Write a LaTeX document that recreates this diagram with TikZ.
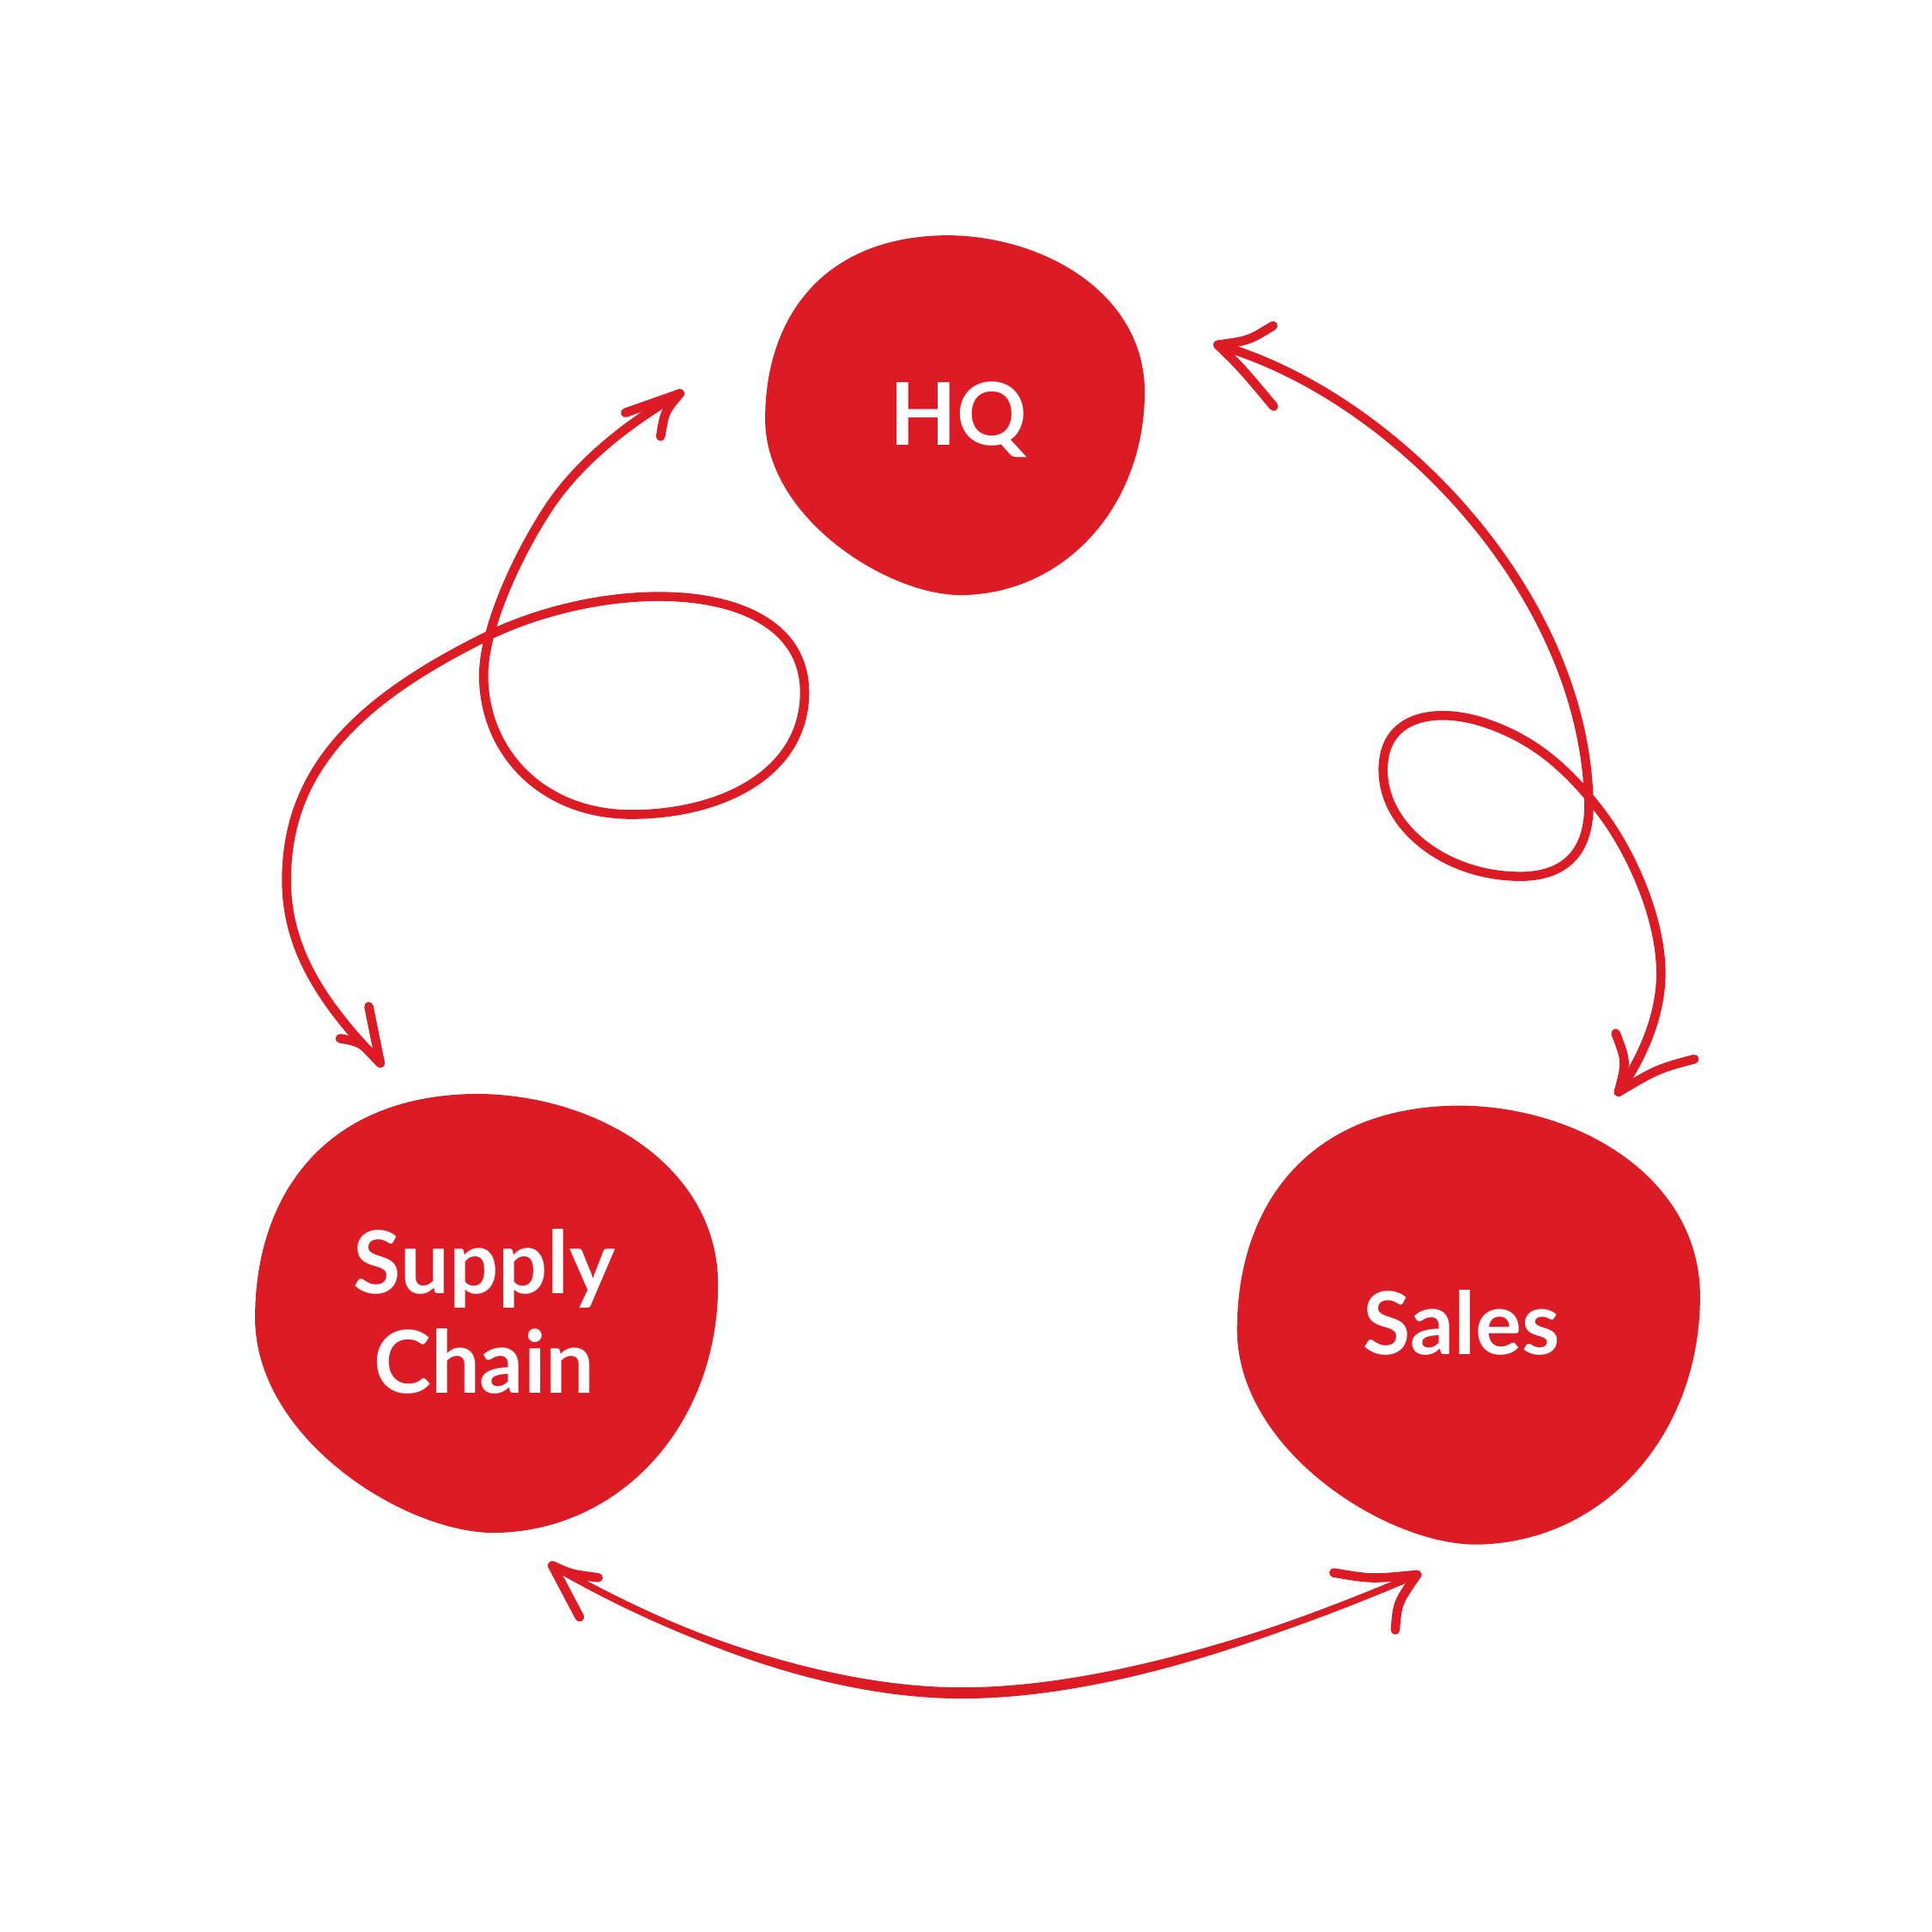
\documentclass[tikz,border=0pt]{standalone}
\usepackage{fontspec}
\newfontfamily\blobfont{Lato}

\definecolor{blobred}{RGB}{220,27,37}

\begin{document}
\begin{tikzpicture}[x=0.01cm, y=-0.01cm,
  swirl/.style={draw=blobred, line width=2.1pt, line cap=round, line join=round},
  blobtext/.style={text=white, font=\blobfont\bfseries\fontsize{20}{23}\selectfont, align=center, inner sep=0pt}]

\useasboundingbox (0,0) rectangle (1568,1568);

%blob outline macro: centre, scale
\newcommand{\blob}[2]{%
  \fill[blobred, shift={#1}, scale=#2] (-5.5,-146.5)
    .. controls (74.5,-145.5) and (153.5,-97.5) .. (153.5,-19.5)
    .. controls (153.5,72.5) and (89.5,144.5) .. (4.5,145.5)
    .. controls (-55.5,145.5) and (-154.5,82.5) .. (-154.5,2.5)
    .. controls (-154.5,-79.5) and (-107.5,-146.5) .. (-5.5,-146.5) -- cycle;
}

\blob{(775.5,337.5)}{1}
\blob{(395.5,1066.5)}{1.22}
\blob{(1192.5,1076)}{1.22}

\node[blobtext, anchor=base] (hq) at (778,361) {HQ};
\node[blobtext, anchor=base] (supply) at (393,1130.7) {Supply\\Chain};
\node[blobtext, anchor=base] (sales) at (1186,1099) {Sales};

\coordinate (scTop) at (308.6,862.8);
\coordinate (hqLeft) at (551.7,319.4);
\coordinate (hqRight) at (988.4,279.9);
\coordinate (slTop) at (1313.6,886.2);
\coordinate (scBot) at (448.3,1270.6);
\coordinate (slBot) at (1150,1278);

%supply chain <-> hq, looped
\draw[swirl] (scTop) .. controls (262,815) and (232,770) .. (232.5,713)
  .. controls (233,625) and (290,568) .. (396,516)
  .. controls (500,466) and (653,470) .. (653,562)
  .. controls (653,625) and (590,660) .. (515,661)
  .. controls (440,662) and (392.5,610) .. (392.5,548)
  .. controls (392.5,510) and (420,450) .. (446,411)
  .. controls (472,372) and (515,340) .. (hqLeft);
\draw[swirl] (scTop) -- (299.3,816.8);
\draw[swirl] (scTop) .. controls (293.2,845.9) .. (276,842.8);
\draw[swirl] (hqLeft) -- (507.5,335);
\draw[swirl] (hqLeft) .. controls (539.5,334) .. (536.1,354.2);

%hq <-> sales, looped
\draw[swirl] (hqRight) .. controls (1130,320) and (1285,480) .. (1289.5,650)
  .. controls (1291,705) and (1255,713) .. (1226,711)
  .. controls (1170,708) and (1122.5,670) .. (1122.5,625)
  .. controls (1122.5,580) and (1165,575) .. (1200,585)
  .. controls (1240,597) and (1270,620) .. (1300,660)
  .. controls (1324,692) and (1348,745) .. (1348,790)
  .. controls (1348,830) and (1327.6,866.2) .. (slTop);
\draw[swirl] (hqRight) .. controls (1013.5,276.4) .. (1033.2,264.3);
\draw[swirl] (hqRight) .. controls (1007.1,298) .. (1033.7,329.8);
\draw[swirl] (slTop) .. controls (1320.1,861.6) .. (1311.3,838.6);
\draw[swirl] (slTop) .. controls (1345.3,867.5) .. (1375.1,859.5);

%supply chain <-> sales, thicker in the middle
\fill[blobred] (scBot) .. controls (560,1331) and (680,1369.5) .. (780.5,1369.5)
  .. controls (900,1369.5) and (1040,1321) .. (slBot)
  .. controls (1040,1329) and (900,1378.5) .. (780.5,1378.5)
  .. controls (680,1378.5) and (560,1339) .. (scBot) -- cycle;
\draw[swirl, line width=1.6pt] (scBot) .. controls (560,1335) and (680,1374) .. (780.5,1374)
  .. controls (900,1374) and (1040,1325) .. (slBot);
\draw[swirl] (scBot) .. controls (463.8,1277.6) .. (485.5,1280.4);
\draw[swirl] (scBot) -- (470.4,1312.4);
\draw[swirl] (slBot) .. controls (1113,1281.6) .. (1082.5,1276.4);
\draw[swirl] (slBot) .. controls (1134.1,1300.9) .. (1132.4,1322.9);

\end{tikzpicture}
\end{document}
